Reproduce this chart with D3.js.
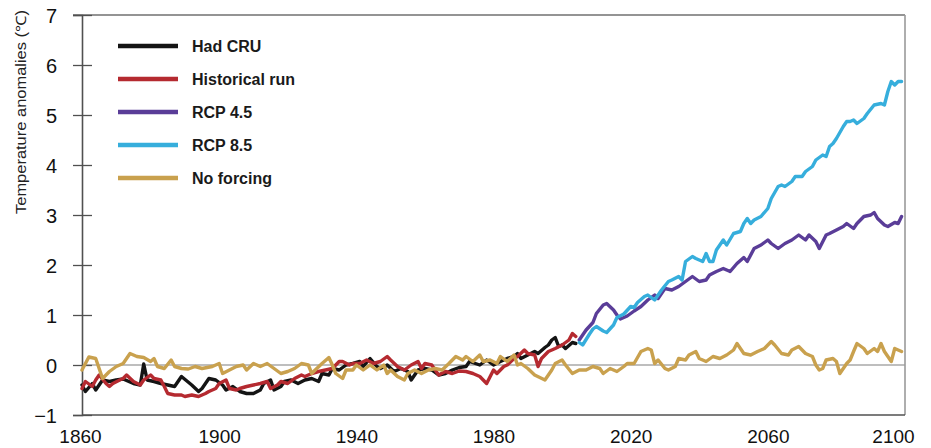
<!DOCTYPE html>
<html>
<head>
<meta charset="utf-8">
<script src="https://cdn.jsdelivr.net/npm/d3@7"></script>
<style>
  html, body { margin: 0; padding: 0; background: #fff; }
  svg { display: block; font-family: "Liberation Sans", Arial, Helvetica, sans-serif; }
</style>
</head>
<body>
<svg id="chart" width="931" height="448"></svg>
<script>
// ---------- data ----------
const xTicks = [1860, 1900, 1940, 1980, 2020, 2060, 2100];
const yTicks = [-1, 0, 1, 2, 3, 4, 5, 6, 7];
const seriesNames = ["Had CRU", "Historical run", "RCP 4.5", "RCP 8.5", "No forcing"];
const seriesColors = ["#141414", "#b52a30", "#5a3d98", "#36aedc", "#c9a14e"];

const hadYears = [1860,1861,1863,1864,1866,1868,1870,1872,1875,1877,1878,1879,1881,1883,1885,1887,1889,1892,1894,1895,1897,1899,1901,1902,1904,1906,1908,1910,1912,1913,1915,1916,1918,1919,1921,1923,1925,1927,1929,1930,1932,1933,1935,1937,1939,1941,1942,1944,1946,1947,1949,1951,1953,1955,1956,1958,1960,1962,1964,1966,1968,1970,1972,1973,1976,1978,1980,1982,1984,1986,1987,1988,1990,1992,1993,1995,1996,1997,1998,1999,2000,2001,2003,2004];
const hadValues = [-0.40,-0.53,-0.37,-0.50,-0.30,-0.33,-0.30,-0.28,-0.37,-0.40,0.02,-0.30,-0.33,-0.37,-0.40,-0.43,-0.23,-0.40,-0.53,-0.47,-0.27,-0.30,-0.40,-0.50,-0.43,-0.53,-0.57,-0.57,-0.50,-0.37,-0.30,-0.50,-0.43,-0.33,-0.30,-0.37,-0.30,-0.27,-0.33,-0.17,-0.20,-0.07,-0.10,0.00,0.03,0.07,-0.03,0.13,-0.03,-0.07,0.00,-0.13,-0.07,-0.13,-0.30,-0.10,-0.07,-0.10,-0.20,-0.17,-0.10,-0.05,-0.03,0.07,0.00,0.10,0.00,0.07,0.13,0.17,0.23,0.13,0.20,0.27,0.23,0.35,0.40,0.50,0.55,0.37,0.40,0.33,0.45,0.43];

const histYears = [1860,1861,1863,1864,1865,1867,1868,1869,1871,1872,1873,1875,1877,1878,1880,1881,1883,1884,1885,1887,1889,1890,1892,1894,1896,1897,1899,1900,1902,1903,1905,1906,1908,1910,1912,1914,1915,1917,1918,1920,1922,1924,1925,1927,1929,1931,1933,1935,1936,1938,1939,1941,1943,1945,1947,1949,1950,1952,1954,1956,1958,1959,1960,1962,1964,1966,1968,1970,1972,1974,1976,1977,1978,1980,1981,1983,1984,1986,1987,1989,1990,1992,1993,1994,1996,1998,2000,2002,2003,2004];
const histValues = [-0.47,-0.33,-0.43,-0.30,-0.20,-0.37,-0.43,-0.37,-0.30,-0.27,-0.20,-0.33,-0.40,-0.30,-0.20,-0.27,-0.30,-0.43,-0.57,-0.60,-0.60,-0.63,-0.60,-0.63,-0.57,-0.53,-0.47,-0.37,-0.30,-0.47,-0.50,-0.47,-0.43,-0.40,-0.37,-0.33,-0.47,-0.40,-0.33,-0.37,-0.27,-0.20,-0.23,-0.17,-0.13,-0.10,-0.07,0.07,0.07,0.00,0.03,0.03,0.10,0.03,0.07,0.17,0.10,-0.03,-0.10,0.00,0.07,-0.07,0.03,0.00,-0.20,-0.13,-0.17,-0.12,-0.13,-0.17,-0.23,-0.30,-0.37,-0.10,-0.17,-0.03,0.00,0.13,0.17,0.30,0.23,0.20,-0.03,0.13,0.27,0.33,0.40,0.50,0.63,0.57];

const rcp45Years = [2005,2007,2009,2010,2012,2013,2015,2016,2017,2019,2021,2023,2025,2027,2028,2030,2032,2034,2036,2038,2040,2042,2043,2045,2047,2049,2051,2053,2054,2056,2058,2060,2061,2063,2065,2067,2069,2071,2072,2074,2075,2077,2078,2080,2082,2083,2085,2086,2088,2090,2091,2092,2094,2095,2097,2098,2099];
const rcp45Values = [0.50,0.70,0.85,1.03,1.20,1.23,1.10,1.00,0.92,0.98,1.08,1.17,1.30,1.40,1.33,1.53,1.50,1.57,1.67,1.77,1.67,1.70,1.80,1.87,1.93,1.87,2.03,2.15,2.07,2.33,2.40,2.50,2.43,2.33,2.43,2.50,2.60,2.50,2.60,2.47,2.33,2.60,2.63,2.70,2.77,2.83,2.73,2.83,2.97,3.00,3.05,2.93,2.80,2.77,2.85,2.83,2.97];

const rcp85Years = [2005,2006,2008,2009,2010,2012,2013,2015,2016,2018,2020,2021,2022,2024,2025,2027,2029,2031,2032,2034,2035,2036,2038,2039,2041,2042,2043,2044,2045,2047,2048,2050,2052,2053,2054,2055,2056,2058,2060,2061,2063,2064,2065,2067,2068,2070,2071,2073,2074,2076,2077,2078,2079,2080,2082,2083,2084,2085,2086,2088,2089,2091,2093,2094,2095,2096,2097,2098,2099];
const rcp85Values = [0.45,0.40,0.62,0.72,0.77,0.68,0.65,0.80,0.95,1.02,1.17,1.15,1.25,1.37,1.40,1.30,1.50,1.67,1.70,1.77,1.70,2.07,2.17,2.13,2.07,2.23,2.07,2.07,2.30,2.50,2.40,2.63,2.67,2.83,2.93,2.83,2.90,2.97,3.13,3.33,3.57,3.60,3.57,3.67,3.77,3.77,3.87,3.97,4.10,4.20,4.17,4.37,4.43,4.53,4.77,4.87,4.87,4.90,4.83,4.93,5.03,5.20,5.23,5.20,5.47,5.67,5.60,5.67,5.67];

const nofYears = [1860,1862,1864,1866,1868,1870,1872,1874,1876,1878,1880,1881,1882,1884,1886,1887,1889,1891,1893,1895,1898,1900,1901,1903,1905,1907,1908,1910,1912,1914,1916,1918,1920,1922,1924,1926,1927,1928,1930,1932,1933,1934,1936,1937,1939,1940,1942,1944,1946,1948,1949,1950,1952,1954,1955,1957,1959,1961,1963,1965,1967,1969,1971,1972,1974,1976,1977,1979,1981,1982,1984,1986,1987,1988,1990,1992,1995,1997,1998,2000,2001,2003,2005,2007,2009,2011,2012,2014,2016,2018,2019,2021,2023,2025,2026,2027,2028,2030,2031,2033,2034,2036,2037,2039,2040,2042,2044,2046,2048,2050,2051,2053,2055,2057,2059,2061,2062,2064,2066,2067,2069,2071,2073,2074,2075,2076,2077,2079,2080,2081,2083,2084,2085,2086,2088,2089,2091,2092,2093,2094,2096,2097,2099];
const nofValues = [-0.10,0.16,0.13,-0.27,-0.13,-0.03,0.03,0.23,0.17,0.15,0.07,0.13,-0.03,-0.07,0.10,-0.03,-0.07,-0.08,-0.03,-0.07,-0.03,0.03,-0.17,-0.10,-0.03,0.00,-0.10,0.03,-0.03,0.03,-0.07,-0.17,-0.13,-0.07,0.03,0.00,-0.17,-0.10,0.03,0.15,0.00,-0.17,-0.27,-0.10,-0.10,0.00,-0.10,0.00,-0.10,0.00,-0.17,-0.10,-0.23,-0.30,-0.17,-0.10,-0.17,-0.10,-0.07,-0.10,0.03,0.17,0.10,0.17,0.07,0.20,0.07,0.10,0.03,0.17,0.07,0.20,0.00,0.03,-0.07,-0.20,-0.30,-0.10,0.03,0.10,0.00,-0.17,-0.10,-0.10,-0.03,-0.07,-0.17,-0.07,-0.13,-0.03,0.03,0.03,0.27,0.33,0.30,0.03,0.10,-0.07,-0.10,-0.03,0.13,0.10,0.20,0.27,0.13,0.07,0.17,0.13,0.20,0.30,0.43,0.23,0.20,0.27,0.33,0.47,0.40,0.23,0.20,0.30,0.37,0.23,0.17,0.00,-0.10,-0.07,0.10,0.13,0.07,-0.17,0.03,0.10,0.27,0.43,0.33,0.23,0.33,0.27,0.43,0.27,0.07,0.33,0.27];

// ---------- layout ----------
const svg = d3.select("#chart");
const plotLeft = 82, plotRight = 905, plotTop = 15, plotBottom = 415;

const x = d3.scaleLinear().domain([1860, 2100]).range([plotLeft, plotRight]);
const y = d3.scaleLinear().domain([-1, 7]).range([plotBottom, plotTop]);

// zero reference line
svg.append("line")
  .attr("x1", plotLeft).attr("x2", plotRight)
  .attr("y1", y(0)).attr("y2", y(0))
  .attr("stroke", "#a9a9a9").attr("stroke-width", 1.6);

// frame
svg.append("line").attr("x1", 73).attr("x2", plotRight).attr("y1", plotTop).attr("y2", plotTop)
  .attr("stroke", "#707070").attr("stroke-width", 1.5);
svg.append("line").attr("x1", plotRight).attr("x2", plotRight).attr("y1", plotTop).attr("y2", plotBottom)
  .attr("stroke", "#9a9a9a").attr("stroke-width", 1.6);
svg.append("line").attr("x1", plotLeft).attr("x2", plotRight).attr("y1", plotBottom).attr("y2", plotBottom)
  .attr("stroke", "#505050").attr("stroke-width", 1.6);

// y axis
const yAxis = d3.axisLeft(y).tickValues(yTicks)
  .tickFormat(d => d < 0 ? "\u2212" + Math.abs(d) : d)
  .tickSize(9).tickPadding(16);
const gy = svg.append("g").attr("transform", `translate(${plotLeft},0)`).call(yAxis);
gy.select(".domain").attr("stroke", "#505050").attr("stroke-width", 1.6);
gy.selectAll(".tick line").attr("stroke", "#505050").attr("stroke-width", 1.3)
  .attr("x1", 10).attr("x2", -9);
gy.selectAll(".tick text").attr("font-size", 20).attr("fill", "#111")
  .attr("x", -25).attr("dy", "0.36em");

// x axis
const xAxis = d3.axisBottom(x).tickValues(xTicks).tickFormat(d3.format("d")).tickSize(0).tickPadding(0);
const gx = svg.append("g").attr("transform", `translate(0,${plotBottom})`).call(xAxis);
gx.select(".domain").remove();
gx.selectAll(".tick text").attr("font-size", 19).attr("fill", "#111")
  .attr("dy", null).attr("y", 28)
  .attr("dx", d => d === 2100 ? -12 : (d === 1860 ? -2 : 0));

// y title
svg.append("text")
  .attr("transform", `translate(26,112) rotate(-90)`)
  .attr("text-anchor", "middle")
  .attr("font-size", 14)
  .attr("fill", "#222")
  .attr("textLength", 204)
  .attr("lengthAdjust", "spacingAndGlyphs")
  .text("Temperature anomalies (\u2103)");

// series
const allSeries = [
  { name: seriesNames[0], color: seriesColors[0], years: hadYears, values: hadValues },
  { name: seriesNames[1], color: seriesColors[1], years: histYears, values: histValues },
  { name: seriesNames[4], color: seriesColors[4], years: nofYears, values: nofValues },
  { name: seriesNames[2], color: seriesColors[2], years: rcp45Years, values: rcp45Values },
  { name: seriesNames[3], color: seriesColors[3], years: rcp85Years, values: rcp85Values }
];
const line = d3.line().x(d => x(d[0])).y(d => y(d[1]));
svg.append("g").selectAll("path").data(allSeries).join("path")
  .attr("d", s => line(s.years.map((yr, i) => [yr, s.values[i]])))
  .attr("fill", "none")
  .attr("stroke", s => s.color)
  .attr("stroke-width", 3.4)
  .attr("stroke-linejoin", "round")
  .attr("stroke-linecap", "round");

// legend
const legY = d3.scalePoint().domain(seriesNames).range([46, 178]);
const leg = svg.append("g").selectAll("g").data(seriesNames).join("g")
  .attr("transform", d => `translate(0,${legY(d)})`);
leg.append("line").attr("x1", 118).attr("x2", 178).attr("y1", 0).attr("y2", 0)
  .attr("stroke", (d, i) => seriesColors[i]).attr("stroke-width", 4.5);
leg.append("text").attr("x", 192).attr("y", 0).attr("dy", "0.36em")
  .attr("font-size", 16).attr("font-weight", "bold").attr("fill", "#1a1a1a")
  .text(d => d);
</script>
</body>
</html>
